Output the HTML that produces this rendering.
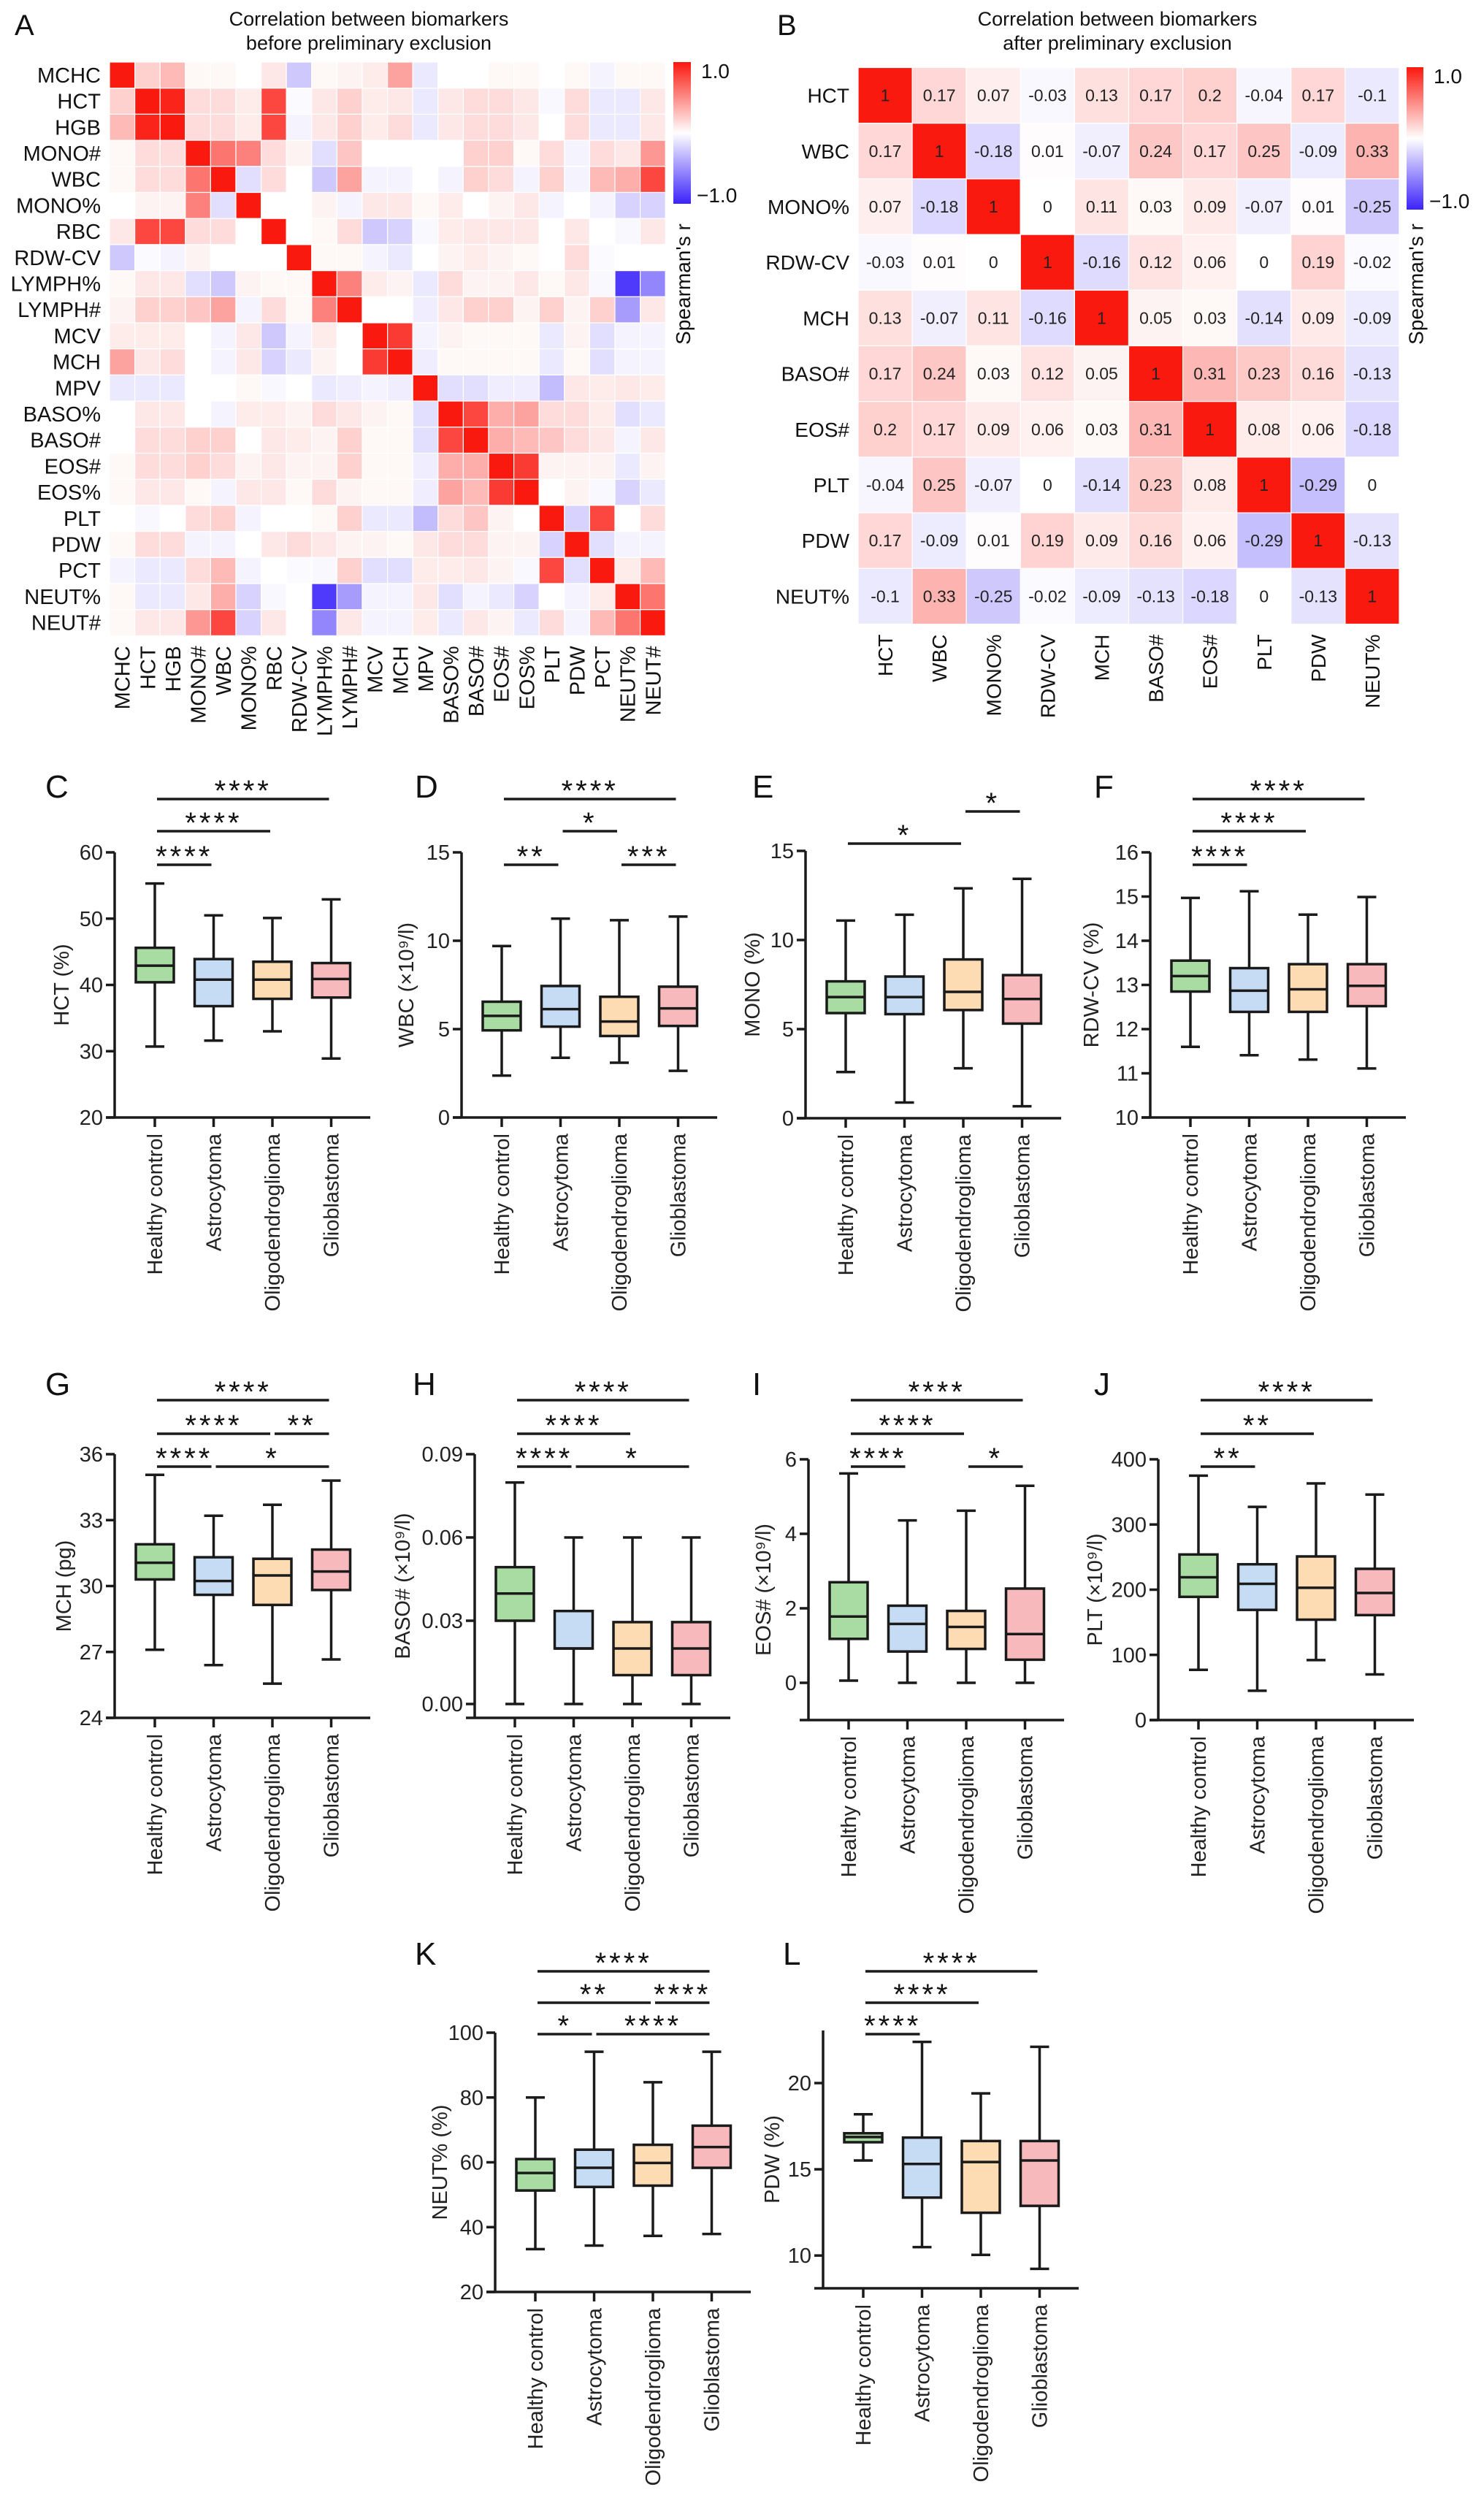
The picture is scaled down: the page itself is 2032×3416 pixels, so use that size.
<!DOCTYPE html>
<html><head><meta charset="utf-8"><style>
html,body{margin:0;padding:0;background:#fff;}
svg{display:block;font-family:"Liberation Sans",Arial,sans-serif;}
</style></head><body>
<svg id="fig" width="2032" height="3416" viewBox="0 0 2032 3416" xmlns="http://www.w3.org/2000/svg"></svg>
<script>
// ---------- Heatmap A data ----------
const labelsA=["MCHC","HCT","HGB","MONO#","WBC","MONO%","RBC","RDW-CV","LYMPH%","LYMPH#","MCV","MCH","MPV","BASO%","BASO#","EOS#","EOS%","PLT","PDW","PCT","NEUT%","NEUT#"];
const matrixA=[
[1,.2,.3,.03,.03,0,.1,-.25,.03,.05,.08,.4,-.1,0,0,.03,.03,0,.03,-.05,.03,.03],
[.2,1,.95,.15,.15,.08,.8,-.02,.1,.2,.08,.1,-.1,.1,.15,.15,.1,-.03,.15,-.1,-.1,.1],
[.3,.95,1,.15,.15,.08,.8,-.05,.1,.2,.08,.15,-.1,.1,.15,.15,.1,0,.15,-.1,-.1,.1],
[.03,.15,.15,1,.6,.55,.15,.05,-.15,.25,0,0,0,0,.2,.2,.03,.15,-.05,.15,.1,.45],
[.03,.15,.15,.6,1,-.15,.15,0,-.25,.4,-.05,-.05,0,-.05,.2,.15,-.05,.2,-.05,.3,.35,.8],
[0,.05,.05,.55,-.15,1,0,0,.05,-.05,.1,.1,.03,.08,0,.05,.1,-.05,0,-.05,-.2,-.2],
[.1,.8,.8,.15,.15,0,1,0,.03,.15,-.25,-.2,-.03,.08,.1,.1,.1,0,.1,0,-.03,.1],
[-.25,-.02,-.05,.05,0,0,0,1,.03,.03,-.05,-.1,0,.05,.08,.05,.03,0,.15,-.02,0,0],
[.03,.1,.1,-.15,-.25,.05,.03,.03,1,.55,.08,.05,-.1,.15,.05,.05,.1,.03,.1,-.03,-.9,-.55],
[.05,.2,.2,.25,.4,-.05,.15,.03,.55,1,0,0,-.08,.1,.2,.2,.05,.2,.05,.2,-.45,.1],
[.08,.08,.08,0,-.05,.1,-.25,-.05,.08,0,1,.85,-.05,.05,.03,.03,.03,-.1,.05,-.15,-.05,-.05],
[.4,.1,.15,0,-.05,.1,-.2,-.1,.05,0,.85,1,-.08,.03,.03,.03,.03,-.1,.03,-.15,-.05,-.05],
[-.1,-.1,-.1,0,0,.03,-.03,0,-.1,-.08,-.05,-.08,1,-.15,-.15,-.08,-.08,-.3,.1,.08,.1,.08],
[0,.1,.1,0,-.05,.08,.08,.05,.15,.1,.05,.03,-.15,1,.8,.35,.4,.15,.15,.08,-.15,-.1],
[0,.15,.15,.2,.2,0,.1,.08,.05,.2,.03,.03,-.15,.8,1,.35,.3,.25,.15,.1,-.05,.1],
[.03,.15,.15,.2,.15,.05,.1,.05,.05,.2,.03,.03,-.08,.35,.35,1,.85,.05,.05,.05,-.1,.05],
[.03,.1,.1,.03,-.05,.1,.1,.03,.15,.05,.03,.03,-.08,.4,.3,.85,1,0,.05,-.03,-.2,-.1],
[0,-.03,0,.15,.2,-.05,0,0,.03,.2,-.1,-.1,-.3,.15,.25,.05,0,1,-.2,.8,0,.15],
[.03,.15,.15,-.05,-.05,0,.1,.15,.1,.05,.05,.03,.1,.15,.15,.05,.05,-.2,1,-.15,-.05,-.05],
[-.05,-.1,-.1,.15,.3,-.05,0,-.02,-.03,.2,-.15,-.15,.08,.08,.1,.05,-.03,.8,-.15,1,.08,.3],
[.03,-.1,-.1,.1,.35,-.2,-.03,0,-.9,-.45,-.05,-.05,.1,-.15,-.05,-.1,-.2,0,-.05,.08,1,.6],
[.03,.1,.1,.45,.8,-.2,.1,0,-.55,.1,-.05,-.05,.08,-.1,.1,.05,-.1,.15,-.05,.3,.6,1]];
// ---------- Heatmap B data ----------
const labelsB=["HCT","WBC","MONO%","RDW-CV","MCH","BASO#","EOS#","PLT","PDW","NEUT%"];
const matrixB=[
[1,.17,.07,-.03,.13,.17,.2,-.04,.17,-.1],
[.17,1,-.18,.01,-.07,.24,.17,.25,-.09,.33],
[.07,-.18,1,0,.11,.03,.09,-.07,.01,-.25],
[-.03,.01,0,1,-.16,.12,.06,0,.19,-.02],
[.13,-.07,.11,-.16,1,.05,.03,-.14,.09,-.09],
[.17,.24,.03,.12,.05,1,.31,.23,.16,-.13],
[.2,.17,.09,.06,.03,.31,1,.08,.06,-.18],
[-.04,.25,-.07,0,-.14,.23,.08,1,-.29,0],
[.17,-.09,.01,.19,.09,.16,.06,-.29,1,-.13],
[-.1,.33,-.25,-.02,-.09,-.13,-.18,0,-.13,1]];
// ---------- Box plot data: [min,q1,median,q3,max] per group ----------
const groups=["Healthy control","Astrocytoma","Oligodendroglioma","Glioblastoma"];
const hctData=[[30.7,40.4,42.9,45.6,55.3],[31.6,36.8,40.8,43.9,50.5],[33.0,37.9,40.8,43.5,50.1],[28.9,38.1,40.9,43.3,52.9]];
const wbcData=[[2.37,4.93,5.75,6.55,9.7],[3.38,5.14,6.13,7.44,11.25],[3.1,4.61,5.43,6.83,11.16],[2.64,5.18,6.17,7.4,11.37]];
const monoData=[[2.59,5.9,6.8,7.68,11.09],[0.88,5.84,6.8,7.95,11.42],[2.8,6.07,7.09,8.91,12.9],[0.67,5.31,6.69,8.03,13.43]];
const rdwData=[[11.6,12.85,13.2,13.55,14.97],[11.41,12.39,12.87,13.38,15.12],[11.31,12.39,12.9,13.47,14.59],[11.11,12.52,12.98,13.47,14.99]];
const mchData=[[27.1,30.3,31.06,31.9,35.06],[26.4,29.6,30.23,31.31,33.2],[25.56,29.14,30.48,31.24,33.7],[26.66,29.82,30.66,31.66,34.8]];
const basoData=[[0,0.030,0.0398,0.0493,0.0798],[0,0.02,0.02,0.0335,0.06],[0,0.0104,0.02,0.0295,0.06],[0,0.0104,0.02,0.0295,0.06]];
const eosData=[[0.06,1.18,1.78,2.7,5.62],[0,0.84,1.58,2.07,4.36],[0,0.91,1.5,1.93,4.62],[0,0.62,1.31,2.53,5.29]];
const pltData=[[77,189,219,254,375],[45,169,209,239,327],[92,154,203,251,363],[70,161,195,232,346]];
const neutData=[[33.2,51.3,56.7,61,80],[34.3,52.4,58.3,63.9,94.1],[37.3,52.8,59.8,65.4,84.7],[37.9,58.3,64.7,71.3,94.1]];
const pdwData=[[15.51,16.57,16.87,17.09,18.19],[10.49,13.36,15.31,16.84,22.39],[10.04,12.48,15.42,16.64,19.4],[9.23,12.88,15.51,16.64,22.1]];
// tick labels
const hctTicks=[20,30,40,50,60], wbcTicks=[0,5,10,15], monoTicks=[0,5,10,15], rdwTicks=[10,11,12,13,14,15,16];
const mchTicks=[24,27,30,33,36], basoTicks=["0.00","0.03","0.06","0.09"], eosTicks=[0,2,4,6], pltTicks=[0,100,200,300,400];
const neutTicks=[20,40,60,80,100], pdwTicks=[10,15,20];
// significance: [fromGroup,toGroup,level,stars]
const hctSig=[[0,3,0,"****"],[0,2,1,"****"],[0,1,2,"****"]];
const wbcSig=[[0,3,0,"****"],[1,2,1,"*"],[0,1,2,"**"],[2,3,2,"***"]];
const monoSig=[[2,3,1,"*"],[0,2,2,"*"]];
const rdwSig=[[0,3,0,"****"],[0,2,1,"****"],[0,1,2,"****"]];
const mchSig=[[0,3,0,"****"],[0,2,1,"****"],[2,3,1,"**"],[0,1,2,"****"],[1,3,2,"*"]];
const basoSig=[[0,3,0,"****"],[0,2,1,"****"],[0,1,2,"****"],[1,3,2,"*"]];
const eosSig=[[0,3,0,"****"],[0,2,1,"****"],[0,1,2,"****"],[2,3,2,"*"]];
const pltSig=[[0,3,0,"****"],[0,2,1,"**"],[0,1,2,"**"]];
const neutSig=[[0,3,0,"****"],[0,2,1,"**"],[2,3,1,"****"],[0,1,2,"*"],[1,3,2,"****"]];
const pdwSig=[[0,3,0,"****"],[0,2,1,"****"],[0,1,2,"****"]];

const NS="http://www.w3.org/2000/svg";
const svg=document.getElementById('fig');
function mk(tag,attrs,parent,text){const e=document.createElementNS(NS,tag);for(const k in attrs)e.setAttribute(k,attrs[k]);if(text!==undefined)e.textContent=text;(parent||svg).appendChild(e);return e;}
function col(v){v=Math.max(-1,Math.min(1,v));let r,g,b;if(v>=0){r=255+(250-255)*v;g=255+(25-255)*v;b=255+(15-255)*v;}else{const t=-v;r=255+(60-255)*t;g=255+(35-255)*t;b=255+(250-255)*t;}return `rgb(${r|0},${g|0},${b|0})`;}

function heatmap(name,labels,mat,x0,y0,cw,ch,fs,showVals,cb){
  const g=mk('g',{});
  
  
  const n=labels.length;
  for(let r=0;r<n;r++)for(let c=0;c<n;c++){
    const rc=mk('rect',{x:x0+c*cw,y:y0+r*ch,width:cw,height:ch,fill:col(mat[r][c]),stroke:'#fff','stroke-width':1.2},g);
    
    
    if(showVals){const t=mk('text',{x:x0+c*cw+cw/2,y:y0+r*ch+ch/2+8,'text-anchor':'middle','font-size':23,fill:'#222'},g,String(mat[r][c]).replace(/^(-?)0\./,'$10.'));
      
      }
  }
  labels.forEach((l,i)=>{
    const t=mk('text',{x:x0-12,y:y0+i*ch+ch/2+10,'text-anchor':'end','font-size':fs,fill:'#111'},g,l);
    
    
    const cx=x0+i*cw+cw/2+fs*0.36, cy=y0+n*ch+14;
    const t2=mk('text',{x:cx,y:cy,transform:`rotate(-90 ${cx} ${cy})`,'text-anchor':'end','font-size':fs,fill:'#111'},g,l);
    
    
  });
  // colorbar
  const gid='grad'+name;
  const defs=mk('defs',{},g);const lg=mk('linearGradient',{id:gid,x1:0,y1:0,x2:0,y2:1},defs);
  [[0,1],[0.5,0],[1,-1]].forEach(s=>mk('stop',{offset:s[0],'stop-color':col(s[1])},lg));
  const bar=mk('rect',{x:cb.x,y:cb.y,width:cb.w,height:cb.h,fill:`url(#${gid})`},g);
  
  
  const t1=mk('text',{x:cb.x+cb.w+14,y:cb.y+22,'font-size':28,fill:'#111'},g,'1.0');
  
  
  const t3=mk('text',{x:cb.x+cb.w+8,y:cb.y+cb.h-2,'font-size':28,fill:'#111'},g,'\u22121.0');
  
  
  const sx=cb.x+cb.w/2+11, sy=cb.sy;
  const t4=mk('text',{x:sx,y:sy,transform:`rotate(-90 ${sx} ${sy})`,'text-anchor':'middle','font-size':28,fill:'#111'},g,"Spearman's r");
  
  
}

function text(name,x,y,s,fs,anchor){const t=mk('text',{x:x,y:y,'font-size':fs,'text-anchor':anchor||'start',fill:'#111'},svg,s);return t;}

// Panel A
text('panel-letter-a',20,48,'A',40);
text('title-a-line1',505,35,'Correlation between biomarkers',27,'middle');
text('title-a-line2',505,68,'before preliminary exclusion',27,'middle');
heatmap('heatmap-a',labelsA,matrixA,150,85,34.6,35.7,29,false,{x:922,y:85,w:24,h:194,sy:389});
// Panel B
text('panel-letter-b',1064,48,'B',40);
text('title-b-line1',1530,35,'Correlation between biomarkers',27,'middle');
text('title-b-line2',1530,68,'after preliminary exclusion',27,'middle');
heatmap('heatmap-b',labelsB,matrixB,1175,92.5,74.1,76.2,28,true,{x:1926,y:92,w:23,h:195,sy:389});

const fills=['#a8dca3','#c6dcf5','#fddcb3','#f8b9bd'];
const panels=[
 {L:'C',lx:62,ly:1092,ax:157,top:1167,bot:1530,ymax:60,ymin:20,data:hctData,ticks:hctTicks,sig:hctSig,sigY:[1094,1138,1184],yl:'HCT (%)',ylx:84},
 {L:'D',lx:568,ly:1092,ax:632,top:1167,bot:1530,ymax:15,ymin:0,data:wbcData,ticks:wbcTicks,sig:wbcSig,sigY:[1094,1138,1184],yl:'WBC (\u00d710\u2079/l)',ylx:556},
 {L:'E',lx:1030,ly:1092,ax:1103,top:1165,bot:1531,ymax:15,ymin:0,data:monoData,ticks:monoTicks,sig:monoSig,sigY:[1067,1111,1155],yl:'MONO (%)',ylx:1030},
 {L:'F',lx:1498,ly:1092,ax:1575,top:1167,bot:1530,ymax:16,ymin:10,data:rdwData,ticks:rdwTicks,sig:rdwSig,sigY:[1094,1138,1184],yl:'RDW-CV (%)',ylx:1494},
 {L:'G',lx:62,ly:1910,ax:157,top:1991,bot:2352,ymax:36,ymin:24,data:mchData,ticks:mchTicks,sig:mchSig,sigY:[1917,1963,2008],yl:'MCH (pg)',ylx:87},
 {L:'H',lx:565,ly:1910,ax:650,top:1991,bot:2352,ymax:0.09,ymin:-0.005,data:basoData,ticks:basoTicks,sig:basoSig,sigY:[1917,1963,2008],yl:'BASO# (\u00d710\u2079/l)',ylx:551},
 {L:'I',lx:1030,ly:1910,ax:1107,top:1998,bot:2355,ymax:6,ymin:-1,data:eosData,ticks:eosTicks,sig:eosSig,sigY:[1917,1963,2008],yl:'EOS# (\u00d710\u2079/l)',ylx:1045},
 {L:'J',lx:1498,ly:1910,ax:1586,top:1998,bot:2355,ymax:400,ymin:0,data:pltData,ticks:pltTicks,sig:pltSig,sigY:[1917,1963,2008],yl:'PLT (\u00d710\u2079/l)',ylx:1499},
 {L:'K',lx:568,ly:2690,ax:678,top:2783,bot:3138,ymax:100,ymin:20,data:neutData,ticks:neutTicks,sig:neutSig,sigY:[2699,2742,2785],yl:'NEUT% (%)',ylx:602},
 {L:'L',lx:1072,ly:2690,ax:1127,top:2780,bot:3133,ymax:23.05,ymin:8.1,data:pdwData,ticks:pdwTicks,sig:pdwSig,sigY:[2699,2742,2785],yl:'PDW (%)',ylx:1057}
];

panels.forEach(p=>{
  const g=mk('g',{});
  
  
  const yS=v=>p.bot-(v-p.ymin)/(p.ymax-p.ymin)*(p.bot-p.top);
  const xS=i=>p.ax+55+i*80.5;
  const L=mk('text',{x:p.lx,y:p.ly,'font-size':44,fill:'#111'},g,p.L);
  
  
  const st={stroke:'#1a1a1a','stroke-width':3.5,fill:'none'};
  const ya=mk('line',Object.assign({x1:p.ax,y1:p.top,x2:p.ax,y2:p.bot},st),g);
  
  
  const xa=mk('line',Object.assign({x1:p.ax-12,y1:p.bot,x2:p.ax+350,y2:p.bot},st),g);
  
  
  p.ticks.forEach(tv=>{
    const y=yS(parseFloat(tv));
    mk('line',Object.assign({x1:p.ax-12,y1:y,x2:p.ax,y2:y},st),g);
    const t=mk('text',{x:p.ax-16,y:y+10,'text-anchor':'end','font-size':29,fill:'#222'},g,String(tv));
    
    
  });
  const ylx=p.ylx+10, yly=(p.top+p.bot)/2;
  const yl=mk('text',{x:ylx,y:yly,transform:`rotate(-90 ${ylx} ${yly})`,'text-anchor':'middle','font-size':29,fill:'#222'},g,p.yl);
  
  
  groups.forEach((gn,i)=>{
    const x=xS(i), d=p.data[i];
    mk('line',Object.assign({x1:x,y1:p.bot,x2:x,y2:p.bot+13},st),g);
    const cx=x+10, cy=p.bot+22;
    const t=mk('text',{x:cx,y:cy,transform:`rotate(-90 ${cx} ${cy})`,'text-anchor':'end','font-size':29,fill:'#222'},g,gn);
    
    
    const bg=mk('g',{},g);
    
    
    mk('line',Object.assign({x1:x,y1:yS(d[0]),x2:x,y2:yS(d[1])},st),bg);
    mk('line',Object.assign({x1:x,y1:yS(d[3]),x2:x,y2:yS(d[4])},st),bg);
    mk('line',Object.assign({x1:x-13,y1:yS(d[0]),x2:x+13,y2:yS(d[0])},st),bg);
    mk('line',Object.assign({x1:x-13,y1:yS(d[4]),x2:x+13,y2:yS(d[4])},st),bg);
    mk('rect',{x:x-26,y:yS(d[3]),width:52,height:Math.max(1,yS(d[1])-yS(d[3])),fill:fills[i],stroke:'#1a1a1a','stroke-width':3.5},bg);
    mk('line',Object.assign({x1:x-26,y1:yS(d[2]),x2:x+26,y2:yS(d[2])},st),bg);
  });
  p.sig.forEach(s=>{
    const y=p.sigY[s[2]], x1=xS(s[0])+3, x2=xS(s[1])-3;
    const sl=mk('line',Object.assign({x1:x1,y1:y,x2:x2,y2:y},st),g);
    
    
    const t=mk('text',{x:(x1+x2)/2,y:y+2,'text-anchor':'middle','font-size':40,'letter-spacing':4,fill:'#111'},g,s[3]);
    
    
  });
});
</script>
</body></html>
